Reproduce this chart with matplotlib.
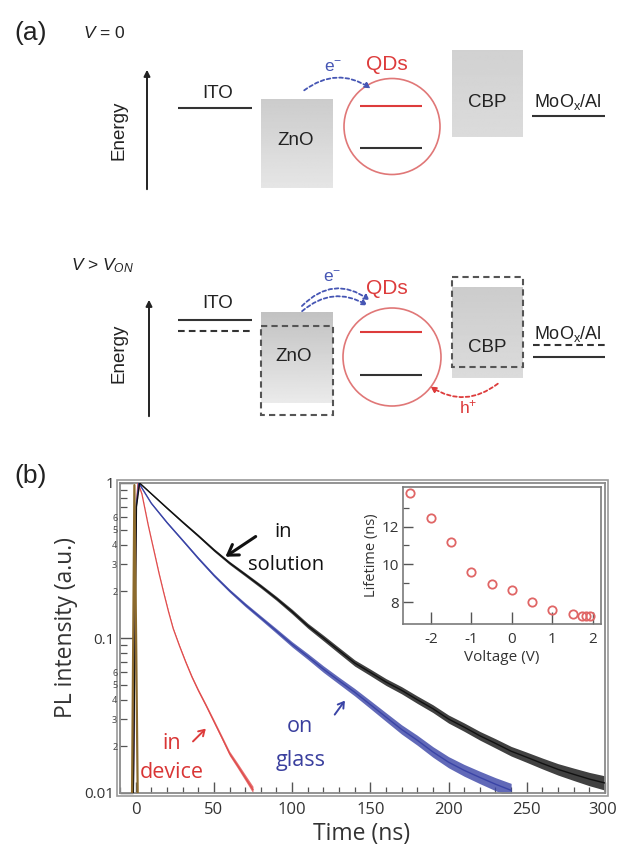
import numpy as np
import matplotlib
matplotlib.use("Agg")
import matplotlib.pyplot as plt
import matplotlib.transforms as mtransforms
from matplotlib.patches import Rectangle, Circle, FancyArrowPatch
from matplotlib.ticker import FixedLocator, FuncFormatter, LogLocator, NullFormatter

# ---------------- data ----------------
# PL decay, "in solution" (black)
t_solution = [-1.5, 0.5, 2.5, 10, 20, 30, 40, 50, 60, 70, 80, 90, 100, 110, 120, 130,
              140, 150, 160, 170, 180, 190, 200, 210, 220, 230, 240, 250, 260, 270,
              280, 290, 300]
I_solution = [0.01, 0.7, 1.0, 0.853, 0.69, 0.56, 0.457, 0.37, 0.305, 0.257, 0.216, 0.18,
              0.148, 0.12, 0.1, 0.083, 0.069, 0.060, 0.052, 0.046, 0.040, 0.035, 0.030,
              0.0266, 0.0234, 0.0209, 0.0186, 0.0170, 0.0155, 0.0142, 0.0132, 0.0123, 0.0116]
# half width of the noise band (decades)
spread_solution = [0.0, 0.0, 0.004, 0.005, 0.006, 0.007, 0.008, 0.009, 0.010, 0.011, 0.012,
                   0.013, 0.015, 0.016, 0.018, 0.019, 0.020, 0.021, 0.022, 0.023, 0.024,
                   0.025, 0.026, 0.027, 0.028, 0.030, 0.031, 0.033, 0.035, 0.037, 0.040,
                   0.043, 0.046]

# "on glass" (blue)
t_glass = [-1.5, 0.3, 2, 10, 20, 30, 40, 50, 60, 70, 80, 90, 100, 110, 120, 130, 140,
           150, 160, 170, 180, 190, 200, 210, 220, 230, 240]
I_glass = [0.01, 0.7, 1.0, 0.74, 0.556, 0.427, 0.327, 0.254, 0.202, 0.164, 0.135, 0.111,
           0.091, 0.076, 0.063, 0.053, 0.0447, 0.0372, 0.0309, 0.0257, 0.0219, 0.0184,
           0.0158, 0.0140, 0.0126, 0.0114, 0.0104]
spread_glass = [0.0, 0.0, 0.004, 0.005, 0.006, 0.007, 0.008, 0.009, 0.010, 0.012, 0.013,
                0.015, 0.017, 0.019, 0.021, 0.022, 0.024, 0.026, 0.028, 0.030, 0.032,
                0.034, 0.036, 0.038, 0.040, 0.042, 0.045]

# "in device" (red)
t_device = [-1.5, 0.3, 1.5, 4, 6, 8, 10, 12, 15, 18, 21, 24, 28, 32, 36, 40, 45, 50, 55,
            60, 65, 70, 75]
I_device = [0.01, 0.7, 1.0, 0.85, 0.676, 0.537, 0.436, 0.355, 0.26, 0.195, 0.148, 0.115,
            0.089, 0.070, 0.056, 0.046, 0.0367, 0.029, 0.0229, 0.018, 0.0151, 0.0126, 0.0105]
spread_device = [0.0, 0.0, 0.003, 0.003, 0.003, 0.003, 0.003, 0.004, 0.004, 0.004, 0.005,
                 0.005, 0.006, 0.007, 0.008, 0.009, 0.010, 0.012, 0.013, 0.015, 0.017,
                 0.019, 0.022]

# instrument response (brown)
t_irf = [-2.3, -0.8, 0.4, 1.3]
I_irf = [0.01, 0.97, 0.08, 0.01]

# inset: lifetime vs voltage
V_inset = [-2.52, -2.0, -1.5, -1.0, -0.5, 0.0, 0.5, 1.0, 1.5, 1.72, 1.83, 1.93]
tau_inset = [13.77, 12.46, 11.17, 9.6, 8.95, 8.63, 7.98, 7.6, 7.37, 7.25, 7.25, 7.25]

main_xticks = [0, 50, 100, 150, 200, 250, 300]
main_yticks = [0.01, 0.1, 1]
main_yticklabels = ["0.01", "0.1", "1"]
inset_xticks = [-2, -1, 0, 1, 2]
inset_yticks = [8, 10, 12]

# ---------------- figure ----------------
W, H = 617, 849
plt.rcParams["mathtext.fontset"] = "custom"
plt.rcParams["mathtext.rm"] = "Liberation Sans"
plt.rcParams["mathtext.it"] = "Liberation Sans:italic"
SANS_A = ["Liberation Sans", "DejaVu Sans"]
SANS_B = ["Open Sans", "DejaVu Sans"]

fig = plt.figure(figsize=(W / 100, H / 100), dpi=100)
fig.patch.set_facecolor("white")

# full-figure pixel canvas for the schematic (a) and free labels
ax_a = fig.add_axes([0, 0, 1, 1])
ax_a.set_axis_off()


def grad_box(x0, y0, x1, y1, c_top, c_bot):
    g = np.linspace(c_top, c_bot, 64).reshape(-1, 1)
    ax_a.imshow(g, extent=(x0, x1, y1, y0), cmap="gray", vmin=0, vmax=1,
                aspect="auto", origin="upper", interpolation="bilinear", zorder=1)


def dash_box(x0, y0, x1, y1):
    ax_a.add_patch(Rectangle((x0, y0), x1 - x0, y1 - y0, fill=False, ec="#555555",
                             lw=1.5, ls=(0, (3, 2)), zorder=3))


def hline(x0, x1, y, color="#333333", ls="-", lw=1.5):
    ax_a.plot([x0, x1], [y, y], color=color, ls=ls, lw=lw, zorder=3,
              solid_capstyle="butt", dash_capstyle="butt")


def curved(p0, p1, rad, color):
    ax_a.add_patch(FancyArrowPatch(p0, p1, connectionstyle=f"arc3,rad={rad}",
                                   arrowstyle="-|>", mutation_scale=8, lw=1.3,
                                   ls=(0, (2, 1.5)), color=color, zorder=4))


txt_kw = dict(ha="center", va="center", family=SANS_A, color="#222222")
BLUE_A = "#4656b4"
RED_A = "#dd3b3b"

# ---- (a) top: V = 0
ax_a.text(31, 33, "(a)", fontsize=19, **txt_kw)
ax_a.text(104, 33, r"$V$ = 0", fontsize=12.5, **txt_kw)
ax_a.annotate("", xy=(147, 67), xytext=(147, 192),
              arrowprops=dict(arrowstyle="-|>", color="#222222", lw=1.4, mutation_scale=9))
ax_a.text(119, 130, "Energy", fontsize=13.5, rotation=90, **txt_kw)
hline(178, 252, 108)
ax_a.text(218, 93, "ITO", fontsize=13.5, **txt_kw)
grad_box(261, 99, 333, 188, 0.80, 0.90)
ax_a.text(296, 140, "ZnO", fontsize=13.5, **txt_kw)
ax_a.add_patch(Circle((392, 126.5), 48, fill=False, ec="#e07777", lw=1.2, zorder=3))
hline(360, 422, 106, color=RED_A)
hline(360, 422, 148)
ax_a.text(387, 64, "QDs", fontsize=15, **{**txt_kw, "color": RED_A})
ax_a.text(333, 67, r"e$^\mathregular{-}$", fontsize=12.5, **{**txt_kw, "color": BLUE_A})
curved((302, 92), (373, 90), -0.37, BLUE_A)
grad_box(452, 50, 523, 137, 0.82, 0.86)
ax_a.text(487, 102, "CBP", fontsize=13.5, **txt_kw)
ax_a.text(568, 102, r"MoO$_\mathregular{x}$/Al", fontsize=13, **txt_kw)
hline(532, 605, 116)

# ---- (a) bottom: V > V_ON
ax_a.text(103, 266, r"$V$ > $V_{ON}$", fontsize=12.5, **txt_kw)
ax_a.annotate("", xy=(149, 297), xytext=(149, 419),
              arrowprops=dict(arrowstyle="-|>", color="#222222", lw=1.4, mutation_scale=9))
ax_a.text(119, 353, "Energy", fontsize=13.5, rotation=90, **txt_kw)
hline(178, 252, 320)
hline(178, 252, 331, ls=(0, (3.2, 2)))
ax_a.text(218, 303, "ITO", fontsize=13.5, **txt_kw)
grad_box(261, 313, 333, 403, 0.76, 0.92)
dash_box(261, 326, 333, 415)
ax_a.text(294, 356, "ZnO", fontsize=13.5, **txt_kw)
ax_a.add_patch(Circle((392, 357), 49, fill=False, ec="#e07777", lw=1.2, zorder=3))
hline(360, 422, 332, color=RED_A)
hline(360, 422, 375)
ax_a.text(387, 288, "QDs", fontsize=15, **{**txt_kw, "color": RED_A})
ax_a.text(332, 277, r"e$^\mathregular{-}$", fontsize=12.5, **{**txt_kw, "color": BLUE_A})
curved((300, 308), (372, 302), -0.45, BLUE_A)
curved((300, 313), (370, 307), -0.38, BLUE_A)
grad_box(452, 288, 523, 378, 0.80, 0.86)
dash_box(452, 277, 523, 367)
ax_a.text(487, 347, "CBP", fontsize=13.5, **txt_kw)
ax_a.text(568, 334, r"MoO$_\mathregular{x}$/Al", fontsize=13, **txt_kw)
hline(533, 605, 345, ls=(0, (3.2, 2)))
hline(533, 605, 357)
curved((500, 382), (428, 385), -0.37, RED_A)
ax_a.text(468, 407, r"h$^\mathregular{+}$", fontsize=12.5, **{**txt_kw, "color": RED_A})

# ---- (b) labels on the canvas
ax_a.text(31, 476, "(b)", fontsize=19, **txt_kw)
ax_a.text(66, 627, "PL intensity (a.u.)", fontsize=16.5, rotation=90, ha="center",
          va="center", family=SANS_B, color="#333333")
ax_a.text(362, 834, "Time (ns)", fontsize=16.5, ha="center", va="center",
          family=SANS_B, color="#333333")
# double frames
ax_a.add_patch(Rectangle((117, 480), 491, 316, fill=False, ec="#9a9a9a", lw=1.2, zorder=2))
ax_a.set_xlim(0, W)
ax_a.set_ylim(H, 0)

# ---------------- (b) main decay plot ----------------
ax = fig.add_axes([120 / W, 1 - 793 / H, 485 / W, 310 / H])
ax.set_facecolor("none")
ax.set_yscale("log")

series = [
    (t_device, I_device, spread_device, "#e04c4c", 0.9),
    (t_glass, I_glass, spread_glass, "#3a44a6", 1.0),
    (t_solution, I_solution, spread_solution, "#111111", 1.0),
]
for t, I, s, c, lw in series:
    t = np.asarray(t, float)
    I = np.asarray(I, float)
    s = np.asarray(s, float)
    ax.fill_between(t, I * 10 ** (-s), I * 10 ** s, color=c, alpha=0.8, lw=0, zorder=2)
    ax.plot(t, I, color=c, lw=lw, zorder=3)
ax.plot(t_irf, I_irf, color="#8c6a2c", lw=1.6, zorder=4)

ax.set_xlim(-10, 300)
ax.set_ylim(0.01, 1)
ax.xaxis.set_major_locator(FixedLocator(main_xticks))
ax.xaxis.set_minor_locator(FixedLocator(np.arange(-10, 301, 10)))
ax.xaxis.set_major_formatter(NullFormatter())
ax.yaxis.set_major_locator(FixedLocator(main_yticks))
ax.yaxis.set_major_formatter(FuncFormatter(
    lambda v, p: main_yticklabels[main_yticks.index(min(main_yticks, key=lambda m: abs(np.log10(m) - np.log10(v))))]))
ax.yaxis.set_minor_locator(LogLocator(base=10, subs=np.arange(2, 10)))


def minor_fmt(v, p):
    m = v / 10 ** np.floor(np.log10(v) + 1e-9)
    k = int(round(m))
    return str(k) if 2 <= k <= 6 else ""


ax.yaxis.set_minor_formatter(FuncFormatter(minor_fmt))
ax.xaxis.set_minor_formatter(NullFormatter())
ax.tick_params(which="both", direction="in", color="#555555", top=False, right=False)
ax.tick_params(axis="y", which="major", length=9, width=1, labelsize=11, pad=4, labelcolor="#333333")
ax.tick_params(axis="y", which="minor", length=5, width=0.9, labelsize=6.5, pad=2, labelcolor="#444444")
ax.tick_params(axis="x", which="major", length=8, width=1)
ax.tick_params(axis="x", which="minor", length=4, width=0.9)
for lab in ax.get_yticklabels() + ax.get_yminorticklabels():
    lab.set_family(SANS_B)
# x tick labels drawn as texts so the last one stays inside the canvas
xlab_tr = mtransforms.blended_transform_factory(ax.transData, ax.transAxes)
for v in main_xticks:
    tr = xlab_tr
    if v == main_xticks[-1]:
        tr = mtransforms.offset_copy(xlab_tr, fig=fig, x=-2.5, y=0, units="dots")
    ax.text(v, -0.03, str(v), transform=tr, ha="center", va="top", fontsize=12,
            family=SANS_B, color="#333333", clip_on=False)
for sp in ax.spines.values():
    sp.set_color("#8a8a8a")
    sp.set_linewidth(1.3)

# annotations
ax.annotate("", xy=(55.9, 0.327), xytext=(78.2, 0.462),
            arrowprops=dict(arrowstyle="->,head_length=0.7,head_width=0.45", lw=2.2, color="#111111"))
ax.text(94, 0.483, "in", fontsize=14.5, ha="center", va="center", family=SANS_B, color="#111111")
ax.text(96, 0.296, "solution", fontsize=14.5, ha="center", va="center", family=SANS_B, color="#111111")
ax.annotate("", xy=(46.1, 0.0268), xytext=(35.4, 0.0209),
            arrowprops=dict(arrowstyle="->,head_length=0.4,head_width=0.25", lw=1.4, color="#dd3b3b"))
ax.text(23.3, 0.021, "in", fontsize=15.5, ha="center", va="center", family=SANS_B, color="#d93535")
ax.text(23.3, 0.0135, "device", fontsize=15.5, ha="center", va="center", family=SANS_B, color="#d93535")
ax.annotate("", xy=(134.8, 0.0408), xytext=(126.2, 0.031),
            arrowprops=dict(arrowstyle="->,head_length=0.4,head_width=0.25", lw=1.4, color="#3a44a6"))
ax.text(105, 0.0267, "on", fontsize=15.5, ha="center", va="center", family=SANS_B, color="#3a3f9e")
ax.text(105.5, 0.0163, "glass", fontsize=15.5, ha="center", va="center", family=SANS_B, color="#3a3f9e")

# ---------------- inset ----------------
ax_in = fig.add_axes([403 / W, 1 - 624 / H, 198 / W, 137 / H])
ax_in.set_facecolor("white")
ax_in.plot(V_inset, tau_inset, "o", mfc="none", mec="#e06666", ms=6, mew=1.3, clip_on=False)
ax_in.set_xlim(-2.69, 2.2)
ax_in.set_ylim(6.84, 14.1)
ax_in.xaxis.set_major_locator(FixedLocator(inset_xticks))
ax_in.yaxis.set_major_locator(FixedLocator(inset_yticks))
ax_in.yaxis.set_minor_locator(FixedLocator([9, 11, 13]))
ax_in.tick_params(which="both", direction="in", color="#555555", top=False, right=False)
ax_in.tick_params(axis="x", which="major", length=9, width=1, labelsize=11, pad=6, labelcolor="#333333")
ax_in.tick_params(axis="y", which="major", length=7, width=1, labelsize=11, pad=3, labelcolor="#333333")
ax_in.tick_params(axis="y", which="minor", length=4, width=0.9)
ax_in.set_xticklabels([str(v) for v in inset_xticks], family=SANS_B)
ax_in.set_yticklabels([str(v) for v in inset_yticks], family=SANS_B)
ax_in.set_xlabel("Voltage (V)", fontsize=11, family=SANS_B, color="#333333", labelpad=2)
ax_in.set_ylabel("Lifetime (ns)", fontsize=10.5, family=SANS_B, color="#333333", labelpad=2)
for sp in ax_in.spines.values():
    sp.set_color("#7a7a7a")
    sp.set_linewidth(1.2)

fig.savefig("out.png", dpi=100, facecolor="white")
